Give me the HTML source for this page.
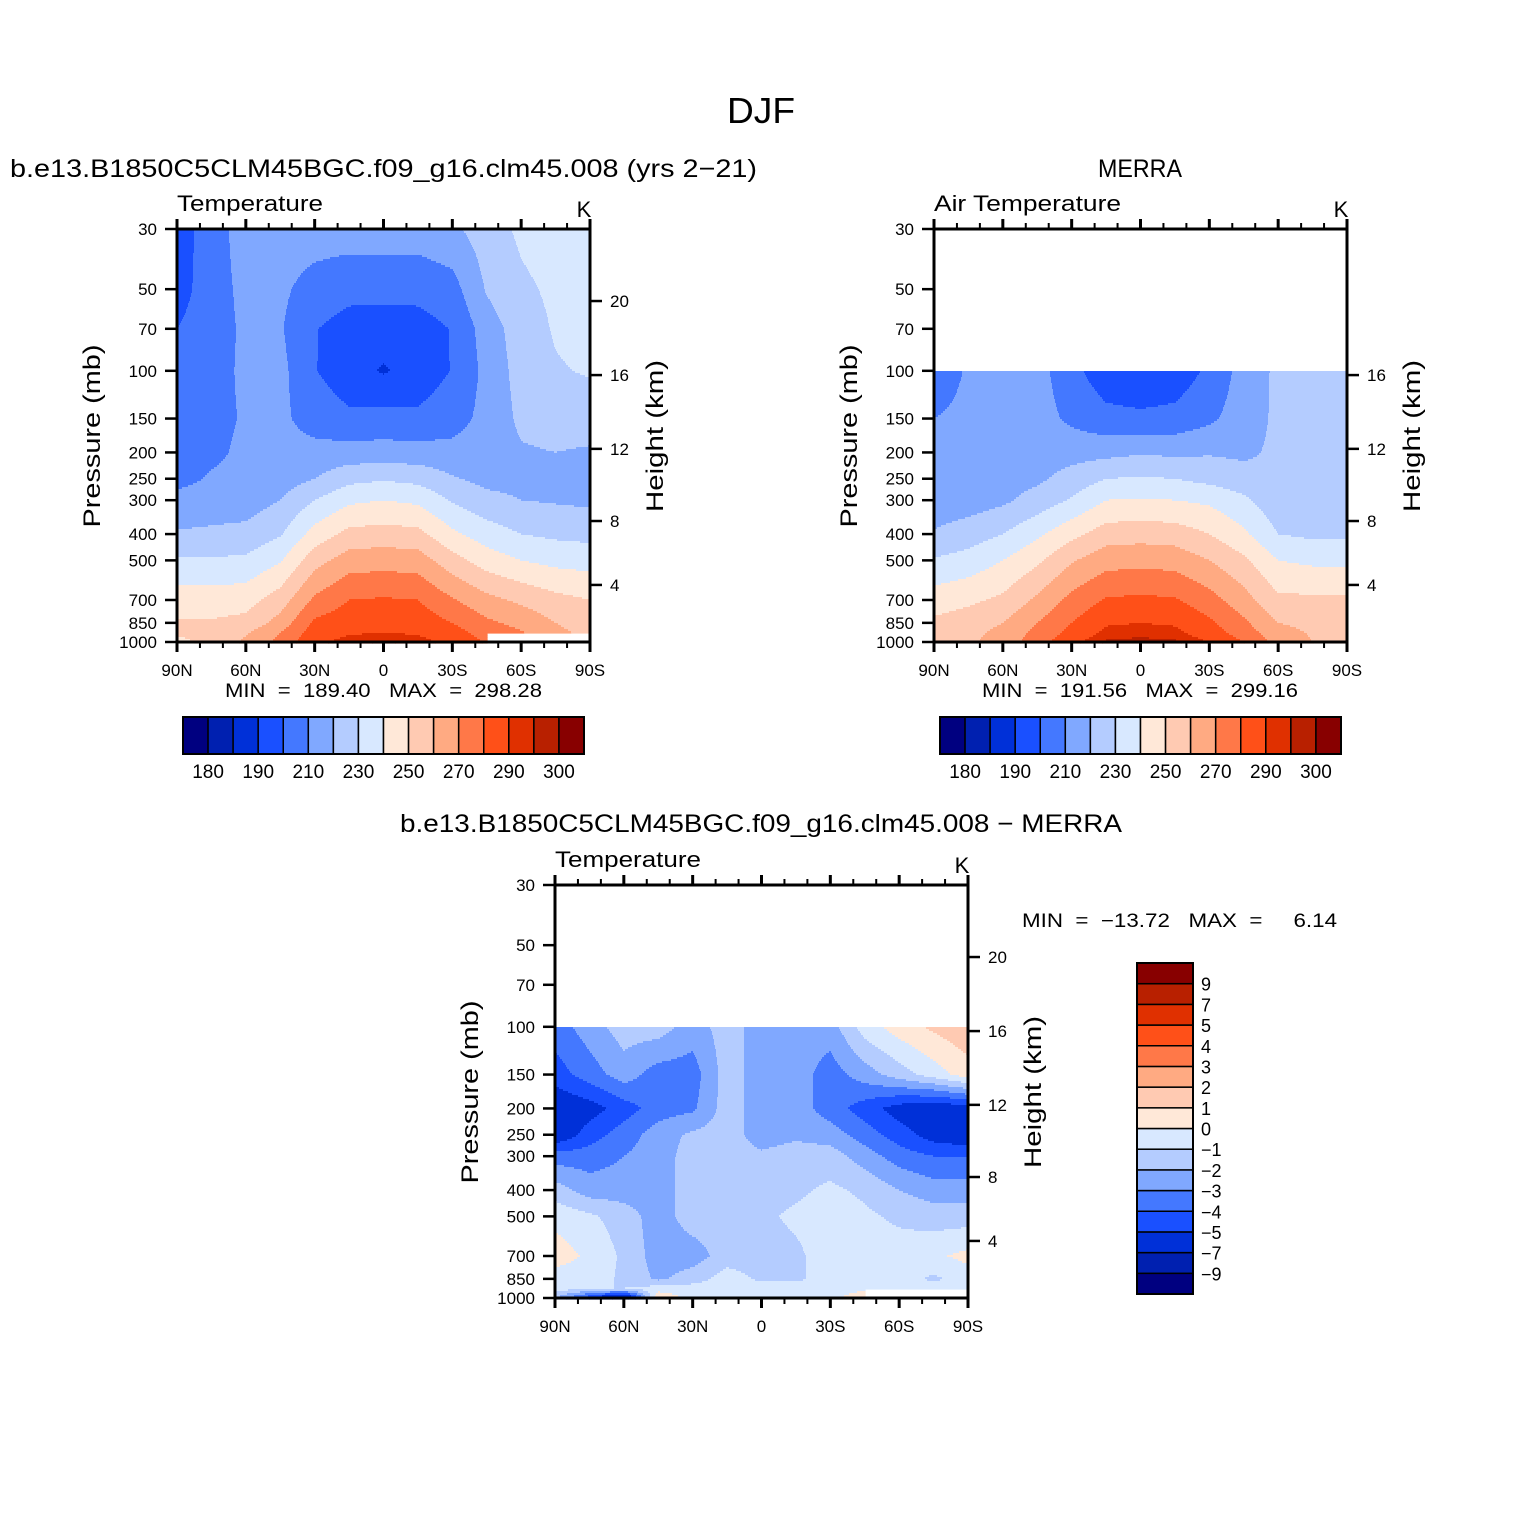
<!DOCTYPE html>
<html><head><meta charset="utf-8">
<style>
html,body{margin:0;padding:0;background:#fff;}
svg{display:block;font-family:"Liberation Sans",sans-serif;}
text{white-space:pre;}
</style></head>
<body>
<svg id="fig" width="1524" height="1524" viewBox="0 0 1524 1524" xmlns="http://www.w3.org/2000/svg">
<rect width="1524" height="1524" fill="#fff"/>
<text x="761" y="123" font-size="36" text-anchor="middle" textLength="68" lengthAdjust="spacingAndGlyphs">DJF</text>
<text x="10" y="177" font-size="25" textLength="747" lengthAdjust="spacingAndGlyphs">b.e13.B1850C5CLM45BGC.f09_g16.clm45.008 (yrs 2−21)</text>
<text x="1098" y="177" font-size="25" textLength="84" lengthAdjust="spacingAndGlyphs">MERRA</text>
<text x="400" y="832" font-size="25" textLength="722" lengthAdjust="spacingAndGlyphs">b.e13.B1850C5CLM45BGC.f09_g16.clm45.008 − MERRA</text>
<g id="p1"></g>
<g id="p2"></g>
<g id="p3"></g>
<g id="cb1"></g>
<g id="cb2"></g>
<g id="cb3"></g>
</svg>
<script>
const NS="http://www.w3.org/2000/svg";
const lats=[90,75,60,45,30,15,0,-15,-30,-45,-60,-75,-90];
const pressures=[30,50,70,100,150,200,250,300,400,500,700,850,925,1000];
const colors=["#000080","#0020b0","#0030d8","#1a50ff","#4478ff","#80a8ff","#b4ccff","#d8e8ff","#ffe8d8","#ffcab2","#ffaa82","#ff7848","#ff5018","#e03000","#b82000","#880000"];
const tempLevels=[180,185,190,200,210,220,230,240,250,260,270,280,290,295,300];
const tempLevelLabels=["180","","190","","210","","230","","250","","270","","290","","300"];
const diffLevels=[-9,-7,-5,-4,-3,-2,-1,0,1,2,3,4,5,7,9];
const diffLevelLabels=["−9","−7","−5","−4","−3","−2","−1","0","1","2","3","4","5","7","9"];
const N=null;
const modelT=[
[195,205,215,215,215,215,215,215,218,225,232,235,235],
[196,205,213,212,206,203,203,203,206,221,228,232,234],
[200,205,212,211,200.5,196,195,196,200.5,215,225,231,234],
[204,206,212,213,200.5,194,189,194,200.5,213,224,229,231],
[205,207,211,212,206,202,203.5,202,206,213,222,224,224],
[206,208,212,213,213,214,214,214,213,215,219,220,219],
[207,211,213,215,220,227,229,227,221,217,217,216,215],
[213,214,215,220,230,238,240,238,229,223,220,219,218],
[221,222,223,229,244,253,254,253,242,235,230,228,227],
[231,231,232,239,256,265,266,265,254,245,240,237,236],
[245,245,246,255,272,280,281,280,271,263,258,253,250],
[251,251,253,264,282,286,287,286,280,272,267,260,256],
[251,253,259,270,285,289,290,289,284,276,271,262,258],
[248,252,262,273,288,293,296,293,287,279,N,N,N]];
const merraT=[
[N,N,N,N,N,N,N,N,N,N,N,N,N],
[N,N,N,N,N,N,N,N,N,N,N,N,N],
[N,N,N,N,N,N,N,N,N,N,N,N,N],
[205,211,214,214,203,194,192,194,202,214,222,223,223],
[210,212,213,214,208,203,202,203,208,215,222,223,223],
[213,214,214,215,216,217,219,218,219,218,222,222,221],
[214,215,216,218,224,230,231,230,227,224,222,222,221],
[214,215,218,224,231,240,241,240,238,232,223,222,222],
[221,225,230,238,247,255,256,255,250,242,230,228,228],
[231,234,240,248,259,266,267,266,260,252,240,238,238],
[245,248,252,262,273,281,282,281,274,264,252,252,252],
[252,255,260,270,280,289,290,289,282,272,260,257,256],
[252,257,263,273,283,292,293,292,285,275,264,259,257],
[249,258,265,275,288,296,297,296,290,280,266,260,257]];
const diffT=[
[N,N,N,N,N,N,N,N,N,N,N,N,N],
[N,N,N,N,N,N,N,N,N,N,N,N,N],
[N,N,N,N,N,N,N,N,N,N,N,N,N],
[-3.5,-2.5,-1.5,-1.5,-2.5,-1.5,-2.5,-2.5,-2.5,-0.5,0.5,1.2,1.8],
[-4.5,-3.5,-2.5,-3.5,-3.5,-1.5,-2.5,-2.5,-3.5,-2.5,-1.5,-0.5,0.5],
[-6,-5.5,-4.5,-3.5,-3.2,-1.5,-2.5,-2.5,-3.5,-4.5,-5.5,-6,-5.5],
[-6,-4.5,-3.5,-2.5,-1.8,-1.5,-2.5,-2.2,-2.5,-3.5,-4.5,-5.5,-6],
[-3.5,-3.5,-3,-2.5,-1.5,-1.5,-1.8,-1.5,-1.5,-2.5,-3.5,-4,-4],
[-1.5,-2.5,-2.5,-2.5,-1.5,-1.2,-1.5,-1.2,-0.8,-1.2,-2,-2.5,-2.5],
[-0.3,-0.8,-1.5,-2.5,-1.5,-1.5,-1.2,-0.8,-0.5,-0.8,-1.2,-1.5,-1.5],
[0.5,-0.2,-1.2,-2.5,-2.5,-1.5,-1.5,-1.2,-0.5,-0.5,-0.5,-0.2,0.3],
[-0.5,-0.5,-1.2,-2.2,-1.5,-0.5,-1.2,-1.2,-0.5,-0.8,-0.5,-1.2,-0.5],
[-0.5,-1,-1,-0.5,-0.5,-0.5,-0.5,-0.5,-0.5,-0.3,-0.5,-0.5,-0.5],
[-2,-5,-8,1,-0.5,-0.5,-0.5,-0.5,-0.5,1,N,N,N]];
const pTickLabels=["30","50","70","100","150","200","250","300","400","500","700","850","1000"];
const pTickValues=[30,50,70,100,150,200,250,300,400,500,700,850,1000];
const hTickLabels=["20","16","12","8","4"];
const hTickPressures=[55.3,103.7,194,358,616];
const latTickLabels=["90N","60N","30N","0","30S","60S","90S"];
const latTickValues=[90,60,30,0,-30,-60,-90];

function el(tag,attrs,parent){const e=document.createElementNS(NS,tag);for(const k in attrs)e.setAttribute(k,attrs[k]);parent.appendChild(e);return e;}
function txt(parent,x,y,s,size,anchor,name,len){const t=el("text",{x:x,y:y,"font-size":size,"text-anchor":anchor||"start"},parent);
if(len){t.setAttribute("textLength",len);t.setAttribute("lengthAdjust","spacingAndGlyphs");}
t.textContent=s;


return t;}
const LP0=Math.log(30),LP1=Math.log(1000);
function yOfP(p,y0,h){return y0+(Math.log(p)-LP0)/(LP1-LP0)*h;}
function xOfLat(lat,x0,w){return x0+(90-lat)/180*w;}
function sample(grid,lat,p){
  const lp=Math.log(p);let i=0;
  while(i<pressures.length-2&&Math.log(pressures[i+1])<lp)i++;
  const a=Math.log(pressures[i]),b=Math.log(pressures[i+1]);
  let fy=(lp-a)/(b-a);fy=Math.max(0,Math.min(1,fy));
  let jf=(90-lat)/15;let j=Math.min(11,Math.floor(jf));let fx=jf-j;
  const v00=grid[i][j],v01=grid[i][j+1],v10=grid[i+1][j],v11=grid[i+1][j+1];
  if(v00===null||v01===null||v10===null||v11===null)return null;
  return (v00*(1-fx)+v01*fx)*(1-fy)+(v10*(1-fx)+v11*fx)*fy;
}
function levelIdx(v,levels){let k=0;while(k<levels.length&&v>=levels[k])k++;return k;}
function drawPanel(g,x0,y0,w,h,grid,levels,title,titleLen,right){
  const fill=el("g",{},g);
  
  
  const step=2;
  for(let yy=y0;yy<y0+h;yy+=step){
    const p=Math.exp(LP0+((yy+step/2-y0)/h)*(LP1-LP0));
    let runStart=x0,runC=null;
    for(let xx=x0;xx<=x0+w;xx++){
      let c=null;
      if(xx<x0+w){const lat=90-(xx+0.5-x0)/w*180;const v=sample(grid,lat,p);if(v!==null)c=colors[levelIdx(v,levels)];}
      if(c!==runC||xx===x0+w){
        if(runC!==null){const r=el("rect",{x:runStart,y:yy,width:xx-runStart+0.6,height:step+0.6,fill:runC},fill);
          
          }
        runStart=xx;runC=c;
      }
    }
  }
  const ax=el("g",{stroke:"#000","stroke-width":2},g);
  
  
  el("rect",{x:x0,y:y0,width:w,height:h,fill:"none","stroke-width":3},ax);
  for(let lat=90;lat>=-90;lat-=10){
    const x=xOfLat(lat,x0,w),major=(lat%30===0);const L=major?10:6;
    el("line",{x1:x,y1:y0+h,x2:x,y2:y0+h+L,"stroke-width":major?3:2},ax);
    el("line",{x1:x,y1:y0,x2:x,y2:y0-L,"stroke-width":major?3:2},ax);
  }
  for(let k=0;k<pTickValues.length;k++){
    const y=yOfP(pTickValues[k],y0,h);
    el("line",{x1:x0-12,y1:y,x2:x0,y2:y,"stroke-width":2.5},ax);
    txt(g,x0-20,y+6,pTickLabels[k],17,"end","pressure-tick-label");
  }
  for(let k=0;k<hTickPressures.length;k++){
    if(!right.all && hTickPressures[k]<98)continue;
    const y=yOfP(hTickPressures[k],y0,h);
    el("line",{x1:x0+w,y1:y,x2:x0+w+12,y2:y,"stroke-width":2.5},ax);
    txt(g,x0+w+20,y+6,hTickLabels[k],17,"start","height-tick-label");
  }
  for(let k=0;k<latTickValues.length;k++){
    txt(g,xOfLat(latTickValues[k],x0,w),y0+h+34,latTickLabels[k],17,"middle","latitude-tick-label");
  }
  txt(g,x0,y0-18,title,22,"start","variable-name",titleLen);
  txt(g,x0+w-6,y0-12,"K",22,"middle","units-label");
  const pl=txt(g,0,0,"Pressure (mb)",24,"middle","y-axis-title",183);
  pl.setAttribute("transform","translate("+(x0-77)+","+(y0+207)+") rotate(-90)");
  const hl=txt(g,0,0,"Height (km)",24,"middle","right-axis-title",152);
  hl.setAttribute("transform","translate("+(x0+w+73)+","+(y0+207)+") rotate(-90)");
}
function drawHColorbar(g,x0,y0,w,h,labels){
  const bw=w/colors.length;
  for(let k=0;k<colors.length;k++){
    const r=el("rect",{x:x0+k*bw,y:y0,width:bw,height:h,fill:colors[k],stroke:"#000","stroke-width":1.5},g);
    
    
  }
  el("rect",{x:x0,y:y0,width:w,height:h,fill:"none",stroke:"#000","stroke-width":2},g);
  for(let k=0;k<labels.length;k++){if(labels[k])txt(g,x0+(k+1)*bw,y0+h+24,labels[k],19,"middle","colorbar-label");}
}
function drawVColorbar(g,x0,y0,w,h,labels){
  const n=colors.length,bh=h/n;
  for(let k=0;k<n;k++){
    const r=el("rect",{x:x0,y:y0+(n-1-k)*bh,width:w,height:bh,fill:colors[k],stroke:"#000","stroke-width":1.5},g);
    
    
  }
  el("rect",{x:x0,y:y0,width:w,height:h,fill:"none",stroke:"#000","stroke-width":2},g);
  for(let k=0;k<labels.length;k++){txt(g,x0+w+8,y0+(n-1-k)*bh+7,labels[k],18,"start","colorbar-label");}
}
const p1=document.getElementById("p1"),p2=document.getElementById("p2"),p3=document.getElementById("p3");
drawPanel(p1,177,229,413,413,modelT,tempLevels,"Temperature",146,{all:true});
drawPanel(p2,934,229,413,413,merraT,tempLevels,"Air Temperature",187,{all:false});
drawPanel(p3,555,885,413,413,diffT,diffLevels,"Temperature",146,{all:true});
txt(p1,225,697,"MIN  =  189.40   MAX  =  298.28",19,"start","min-max-label",317);
txt(p2,982,697,"MIN  =  191.56   MAX  =  299.16",19,"start","min-max-label",316);
txt(p3,1022,927,"MIN  =  −13.72   MAX  =     6.14",19,"start","min-max-label",315);
drawHColorbar(document.getElementById("cb1"),183,717,401,37,tempLevelLabels);
drawHColorbar(document.getElementById("cb2"),940,717,401,37,tempLevelLabels);
drawVColorbar(document.getElementById("cb3"),1137,963,56,331,diffLevelLabels);
</script>
</body></html>
